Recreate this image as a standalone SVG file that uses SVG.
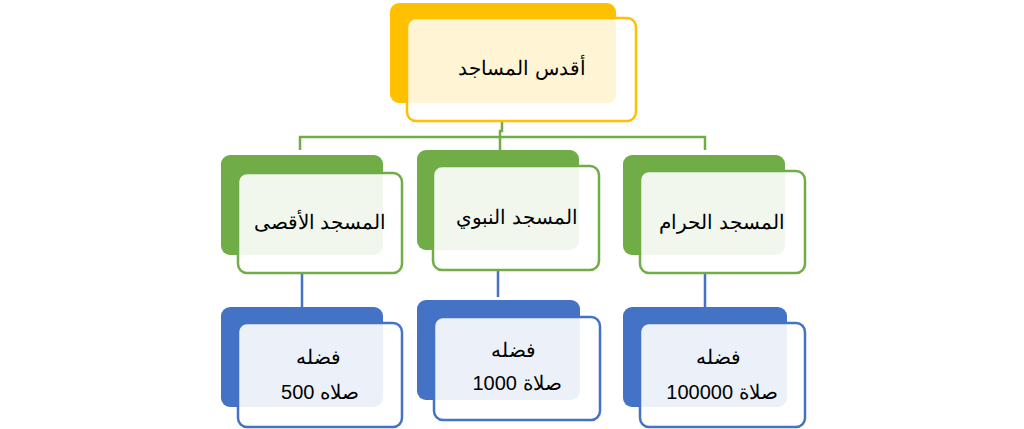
<svg xmlns="http://www.w3.org/2000/svg" width="1024" height="429" viewBox="0 0 1024 429">
<style>
text{font-family:"Liberation Sans",Arial,sans-serif;font-size:20px;fill:#000;text-anchor:middle}
.bg{fill:#FFC000}.fg{fill:#fff;fill-opacity:.9;stroke:#FFC000;stroke-width:2.5}
.gb{fill:#70AD47}.gf{fill:#fff;fill-opacity:.9;stroke:#70AD47;stroke-width:2.5}
.bb{fill:#4472C4}.bf{fill:#fff;fill-opacity:.9;stroke:#4472C4;stroke-width:2.5}
.cg{stroke:#70AD47;stroke-width:2.5;fill:none}.cb{stroke:#4472C4;stroke-width:2.5;fill:none}
</style>
<g id="connectors">
<path class="cg" d="M502 121V131H500V137M300 150V137H705V150M500 137V150"/>
<path class="cb" d="M302 273V307M498 270V297M705 273V307"/>
</g>
<g id="top"><rect class="bg" x="390" y="3" width="226" height="100" rx="9"/><rect class="fg" x="407" y="18" width="229" height="103" rx="9"/><rect x="407" y="18" width="209" height="85" rx="8" fill="#FFC000" opacity=".08"/><text x="522" y="75">أقدس المساجد</text></g>
<g id="n1"><rect class="gb" x="221" y="155" width="162" height="100" rx="9"/><rect class="gf" x="238" y="173" width="164" height="100" rx="9"/><text x="320" y="229">المسجد الأقصى</text></g>
<g id="n2"><rect class="gb" x="417" y="150" width="162" height="100" rx="9"/><rect class="gf" x="433" y="166" width="166" height="104" rx="9"/><text x="517" y="224">المسجد النبوي</text></g>
<g id="n3"><rect class="gb" x="623" y="155" width="162" height="100" rx="9"/><rect class="gf" x="640" y="171" width="165" height="102" rx="9"/><text x="722" y="229">المسجد الحرام</text></g>
<g id="b1"><rect class="bb" x="221" y="307" width="162" height="100" rx="9"/><rect class="bf" x="238" y="323" width="164" height="104" rx="9"/><text x="318" y="364">فضله</text><text x="320" y="399">500 صلاه</text></g>
<g id="b2"><rect class="bb" x="417" y="300" width="163" height="100" rx="9"/><rect class="bf" x="434" y="317" width="166" height="103" rx="9"/><text x="513" y="357">فضله</text><text x="517" y="390">1000 صلاة</text></g>
<g id="b3"><rect class="bb" x="623" y="307" width="164" height="100" rx="9"/><rect class="bf" x="640" y="323" width="165" height="104" rx="9"/><text x="718" y="364">فضله</text><text x="722" y="399">100000 صلاة</text></g>
</svg>
